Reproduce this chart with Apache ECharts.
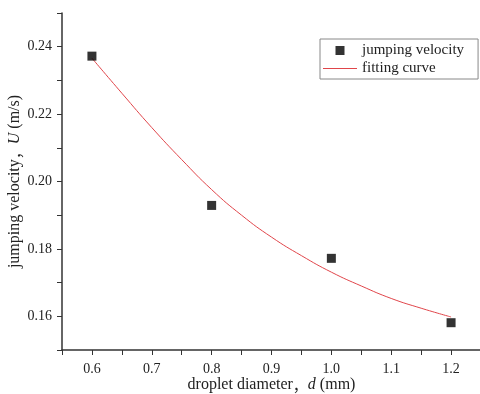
<!DOCTYPE html>
<html>
<head>
<meta charset="utf-8">
<script src="https://cdn.jsdelivr.net/npm/echarts@6/dist/echarts.min.js"></script>
<style>
  html, body { margin: 0; padding: 0; background: #fff; }
  #chart { width: 480px; height: 394px; }
</style>
</head>
<body>
<div id="chart"></div>
<script>
// measured droplet jumping velocity
const diameters = [0.6, 0.8, 1.0, 1.2];
const velocities = [0.2372, 0.1929, 0.1772, 0.1581];

// fitted curve
const fitDiameters = [0.6, 0.65, 0.7, 0.75, 0.8, 0.85, 0.9, 0.95, 1.0, 1.05, 1.1, 1.15, 1.2];
const fitVelocities = [0.2366, 0.2262, 0.2160, 0.2065, 0.1976, 0.1900, 0.1835, 0.1780, 0.1731, 0.1690, 0.1653, 0.1624, 0.1598];

const xTicks = [0.6, 0.7, 0.8, 0.9, 1.0, 1.1, 1.2];
const yTicks = [0.16, 0.18, 0.20, 0.22, 0.24];

const font = '"Liberation Serif", "DejaVu Serif", serif';
const cjkFont = '"Noto Sans CJK SC", sans-serif';
const axisColor = '#333';
const textColor = '#222';

const nameRich = {
    a: { fontFamily: font, fontSize: 16, color: textColor },
    c: { fontFamily: cjkFont, fontSize: 15, color: textColor },
    i: { fontFamily: font, fontSize: 16, color: textColor, fontStyle: 'italic' }
};

const chart = echarts.init(document.getElementById('chart'));

const option = {
    animation: false,
    textStyle: { fontFamily: font },
    grid: {
        left: 62,
        top: 13,
        width: 419,
        bottom: 44,
        outerBoundsMode: 'none'
    },
    legend: {
        orient: 'vertical',
        left: 320,
        top: 39,
        padding: [4, 14, 3, 3],
        itemGap: 3,
        itemWidth: 34,
        itemHeight: 9,
        borderColor: '#888',
        borderWidth: 1,
        textStyle: { fontFamily: font, fontSize: 15, color: textColor },
        data: [
            { name: 'jumping velocity', icon: 'path://M0,0H10V10H0Z' },
            { name: 'fitting curve', icon: 'path://M0,0H34V1H0Z' }
        ]
    },
    xAxis: {
        type: 'value',
        min: 0.55,
        max: 1.25,
        interval: 0.05,
        name: '{a|droplet diameter}{c|，}{i|d}{a| (mm)}',
        nameLocation: 'middle',
        nameGap: 27,
        nameMoveOverlap: false,
        nameTextStyle: { rich: nameRich },
        splitLine: { show: false },
        axisLine: { lineStyle: { color: axisColor, width: 1.5 } },
        axisTick: {
            length: 5,
            lineStyle: { color: axisColor }
        },
        axisLabel: {
            margin: 12,
            fontFamily: font,
            fontSize: 14,
            color: textColor,
            formatter: v => {
                const hit = xTicks.find(t => Math.abs(t - v) < 1e-6);
                return hit === undefined ? '' : hit.toFixed(1);
            }
        }
    },
    yAxis: {
        type: 'value',
        min: 0.15,
        max: 0.25,
        interval: 0.01,
        name: '{a|jumping velocity}{c|，}{i|U}{a| (m/s)}',
        nameLocation: 'middle',
        nameGap: 39,
        nameMoveOverlap: false,
        nameTextStyle: { rich: nameRich },
        splitLine: { show: false },
        axisLine: { show: true, lineStyle: { color: axisColor, width: 1.5 } },
        axisTick: {
            length: 5,
            lineStyle: { color: axisColor }
        },
        axisLabel: {
            margin: 10,
            fontFamily: font,
            fontSize: 14,
            color: textColor,
            formatter: v => {
                const hit = yTicks.find(t => Math.abs(t - v) < 1e-6);
                return hit === undefined ? '' : hit.toFixed(2);
            }
        }
    },
    series: [
        {
            name: 'jumping velocity',
            type: 'scatter',
            symbol: 'rect',
            symbolSize: 9,
            itemStyle: { color: '#000' },
            data: diameters.map((d, i) => [d, velocities[i]]),
            z: 3
        },
        {
            name: 'fitting curve',
            type: 'line',
            smooth: true,
            showSymbol: false,
            symbol: 'none',
            lineStyle: { color: '#e0454a', width: 1 },
            itemStyle: { color: '#e0454a' },
            data: fitDiameters.map((d, i) => [d, fitVelocities[i]]),
            z: 2
        }
    ]
};

chart.setOption(option);
</script>
</body>
</html>
